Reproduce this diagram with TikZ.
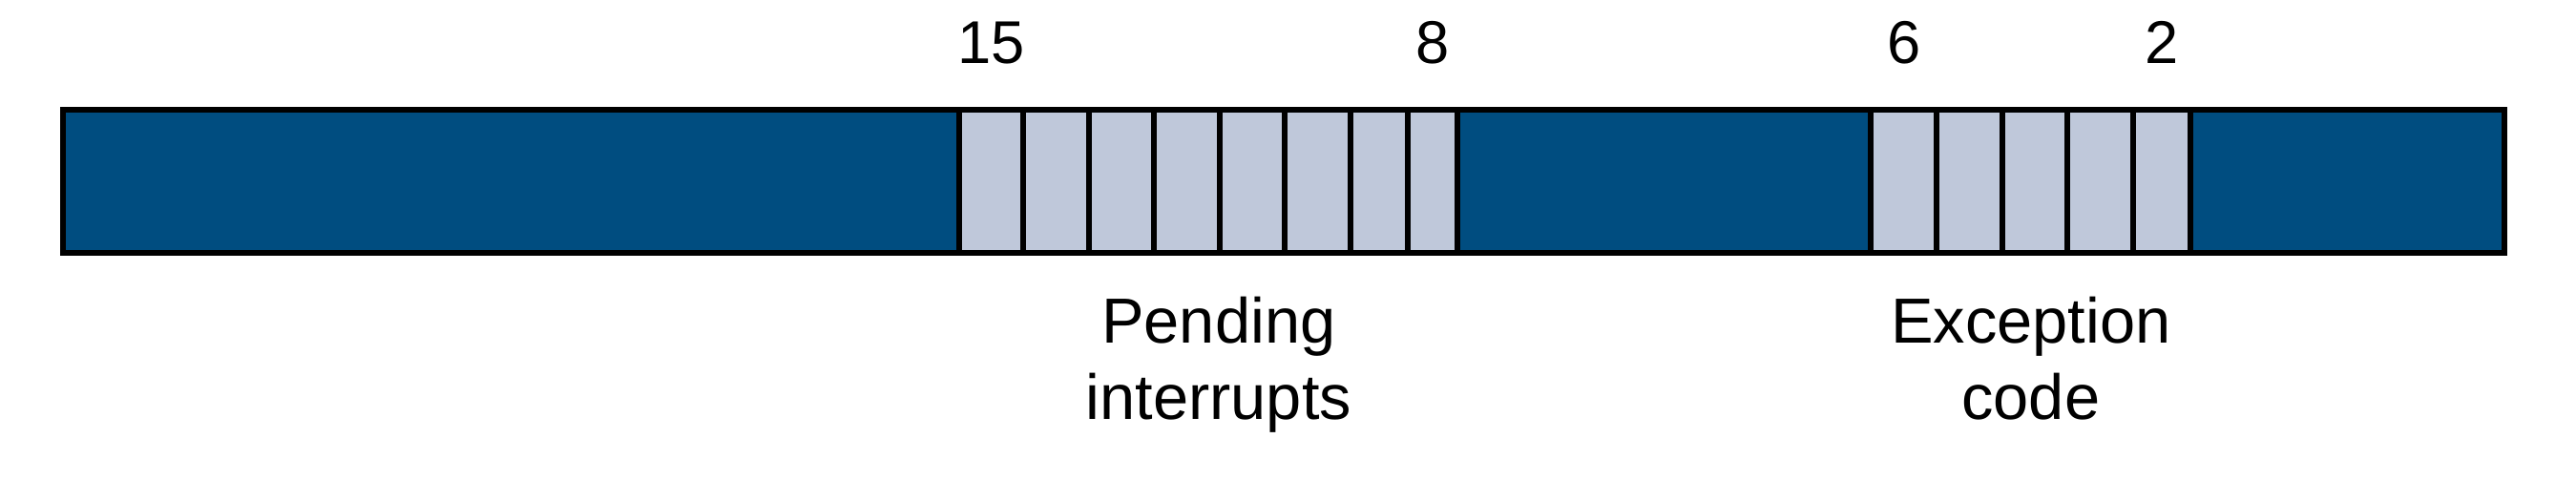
\documentclass[tikz,border=0pt]{standalone}
\usepackage{fontspec}
\setmainfont{Liberation Sans}
\usetikzlibrary{positioning}
\definecolor{regblue}{RGB}{0,77,128}
\definecolor{bitgray}{RGB}{191,200,218}

\begin{document}
\begin{tikzpicture}[field/.style={draw,line width=0.6mm,fill=regblue,minimum height=1.5cm,inner sep=0pt,outer sep=0pt},
        bit/.style={field,fill=bitgray},
        num/.style={font=\fontsize{18}{21.6}\selectfont},
        desc/.style={font=\fontsize{19}{22.8}\selectfont,align=center}]
        \useasboundingbox (0,0) rectangle (26.99,-5.24);
        \node[field,minimum width=9.398cm] (F0) at (5.354,-1.9) {};
        \node[bit,right=0pt of F0,minimum width=0.670cm] (P15) {};
        \node[bit,right=0pt of P15,minimum width=0.685cm] (P14) {};
        \node[bit,right=0pt of P14,minimum width=0.685cm] (P13) {};
        \node[bit,right=0pt of P13,minimum width=0.685cm] (P12) {};
        \node[bit,right=0pt of P12,minimum width=0.685cm] (P11) {};
        \node[bit,right=0pt of P11,minimum width=0.685cm] (P10) {};
        \node[bit,right=0pt of P10,minimum width=0.605cm] (P9) {};
        \node[bit,right=0pt of P9,minimum width=0.520cm] (P8) {};
        \node[field,right=0pt of P8,minimum width=4.330cm] (F1) {};
        \node[bit,right=0pt of F1,minimum width=0.690cm] (E6) {};
        \node[bit,right=0pt of E6,minimum width=0.684cm] (E5) {};
        \node[bit,right=0pt of E5,minimum width=0.683cm] (E4) {};
        \node[bit,right=0pt of E4,minimum width=0.687cm] (E3) {};
        \node[bit,right=0pt of E3,minimum width=0.606cm] (E2) {};
        \node[field,right=0pt of E2,minimum width=3.284cm] (F2) {};
    
        \node[num,anchor=base] (N15) at ([yshift=4.83mm]P15.north) {15};
        \node[num,anchor=base] (N8) at ([yshift=4.83mm]P8.north) {8};
        \node[num,anchor=base] (N6) at ([yshift=4.83mm]E6.north) {6};
        \node[num,anchor=base] (N2) at ([yshift=4.83mm]E2.north) {2};
        \node[desc,anchor=north] (PI) at ([xshift=-0.1mm,yshift=-3.4mm]P12.south east) {Pending\\interrupts};
        \node[desc,anchor=north] (EC) at ([xshift=-0.4mm,yshift=-3.4mm]E4.south) {Exception\\code};
    \end{tikzpicture}
\end{document}
